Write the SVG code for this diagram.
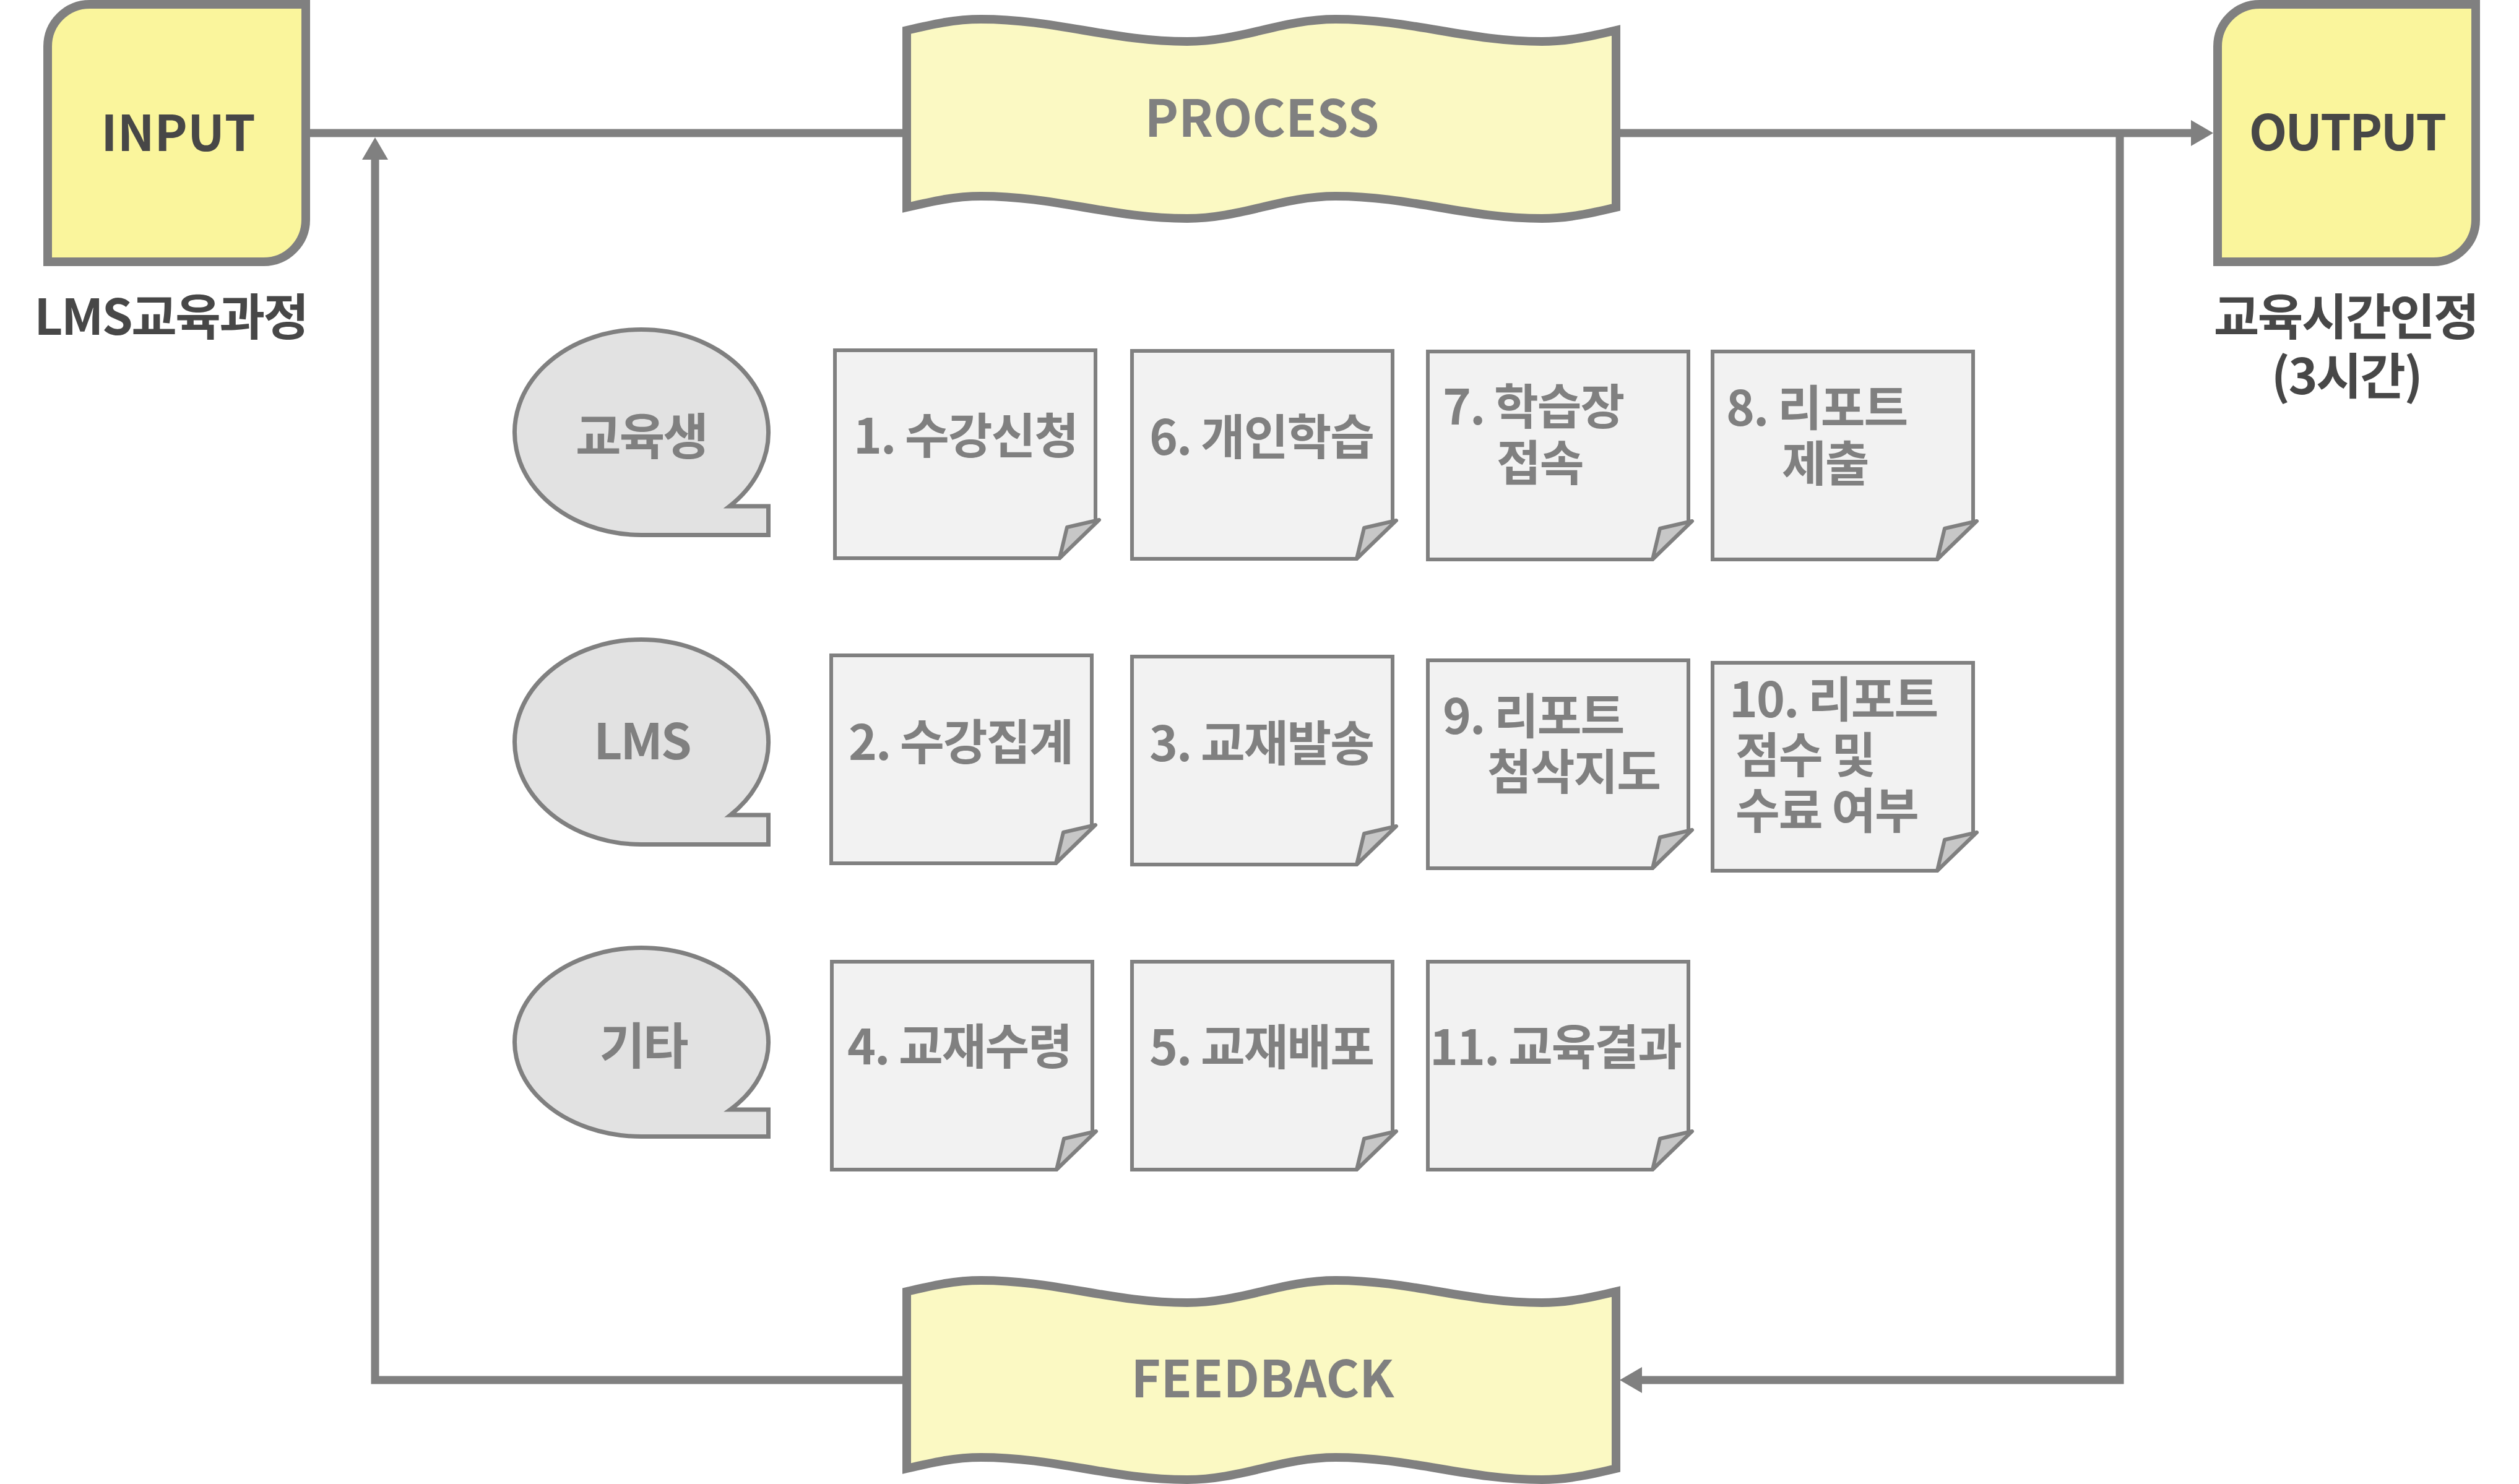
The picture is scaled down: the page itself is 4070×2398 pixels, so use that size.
<svg xmlns="http://www.w3.org/2000/svg" width="4070" height="2398" viewBox="0 0 4070 2398">
  <style>
    .io { fill: #faf59c; stroke: #808080; stroke-width: 14; }
    .tape { fill: #fbf9c3; stroke: #808080; stroke-width: 14; }
    .bubble { fill: #e2e2e2; stroke: #808080; stroke-width: 7; }
    .doc { fill: #f2f2f2; stroke: #808080; stroke-width: 6; }
    .fold { fill: #c7c7c7; stroke: #808080; stroke-width: 6; stroke-linejoin: round; }
    .conn { fill: none; stroke: #808080; stroke-width: 13; }
    text { font-family: "Noto Sans CJK KR", "Noto Sans", sans-serif; font-weight: 700; }
    .dark { fill: #474747; font-size: 80px; }
    .dark-sub { fill: #474747; font-size: 80px; letter-spacing: -2.5px; }
    .big { fill: #808080; font-size: 82px; }
    .blab { fill: #808080; font-size: 80px; letter-spacing: -3px; }
    .dlab { fill: #808080; font-size: 78px; letter-spacing: -2px; }
  </style>
  <defs>
    <marker id="arrow" markerUnits="userSpaceOnUse" markerWidth="36" markerHeight="42" refX="5" refY="21" orient="auto" viewBox="0 0 36 42">
      <path d="M0,0 L36,21 L0,42 Z" fill="#808080"/>
    </marker>
    <path id="tapeShape" d="M0,0 C39,-9.2 77,-18 120,-18 C241,-18 332,18 453,18 C540,18 606,-18 693,-18 C814,-18 905,18 1026,18 C1069,18 1107,9.2 1146,0 V286 C1107,295.2 1069,304 1026,304 C905,304 814,268 693,268 C606,268 540,304 453,304 C332,304 241,268 120,268 C77,268 39,276.8 0,286 Z"/>
    <path id="docShape" d="M0,0 H421 V278 L363,336 H0 Z"/>
    <path id="foldShape" d="M427,274 L375,286 L363,336 Z"/>
  </defs>

  <g id="connectors">
    <path class="conn" d="M501,215 H1459"/>
    <path class="conn" d="M2617,215 H3545" marker-end="url(#arrow)"/>
    <path class="conn" d="M3425,215 V2230 H2648" marker-end="url(#arrow)"/>
    <path class="conn" d="M1459,2230 H606 V253" marker-end="url(#arrow)"/>
  </g>

  <g id="input">
    <path class="io" d="M77,75 A68,68 0 0 1 145,7 H494 V355 A68,68 0 0 1 426,423 H77 Z"/>
    <text class="dark" x="288" y="244" text-anchor="middle">INPUT</text>
    <text class="dark-sub" x="276" y="541" text-anchor="middle">LMS교육과정</text>
  </g>

  <g id="output">
    <path class="io" d="M3583,75 A68,68 0 0 1 3651,7 H4000 V355 A68,68 0 0 1 3932,423 H3583 Z"/>
    <text class="dark" x="3792" y="243" text-anchor="middle" style="letter-spacing:-3px">OUTPUT</text>
    <text class="dark-sub" x="3790" y="541" text-anchor="middle">교육시간인정</text>
    <text class="dark-sub" x="3791" y="637" text-anchor="middle">(3시간)</text>
  </g>

  <g id="process">
    <use href="#tapeShape" class="tape" x="1465" y="49"/>
    <text class="big" x="2039" y="221" text-anchor="middle">PROCESS</text>
  </g>

  <g id="feedback">
    <use href="#tapeShape" class="tape" x="1465" y="2087"/>
    <text class="big" x="2040" y="2258" text-anchor="middle">FEEDBACK</text>
  </g>

  <g id="actor-student">
    <path class="bubble" d="M1178.8,818 A205,166 0 1,0 1036.5,864.5 H1241.5 V818 Z"/>
    <text class="blab" x="1036" y="734" text-anchor="middle">교육생</text>
  </g>
  <g id="actor-lms">
    <path class="bubble" d="M1180.3,1317 A205,165.5 0 1,0 1036.5,1364.5 H1241.5 V1317 Z"/>
    <text class="blab" x="1037" y="1227" text-anchor="middle">LMS</text>
  </g>
  <g id="actor-etc">
    <path class="bubble" d="M1179.9,1793 A205,152.5 0 1,0 1036.5,1836.5 H1241.5 V1793 Z"/>
    <text class="blab" x="1039" y="1719" text-anchor="middle">기타</text>
  </g>

  <g id="step1">
    <g transform="translate(1349,566)"><use href="#docShape" class="doc"/><use href="#foldShape" class="fold"/></g>
    <text class="dlab" x="1560" y="733" text-anchor="middle">1. 수강신청</text>
  </g>

  <g id="step6">
    <g transform="translate(1829,567)"><use href="#docShape" class="doc"/><use href="#foldShape" class="fold"/></g>
    <text class="dlab" x="2038" y="735" text-anchor="middle">6. 개인학습</text>
  </g>

  <g id="step7">
    <g transform="translate(2307,568)"><use href="#docShape" class="doc"/><use href="#foldShape" class="fold"/></g>
    <text class="dlab"><tspan x="2331" y="686">7. 학습장</tspan><tspan x="2418" y="777">접속</tspan></text>
  </g>

  <g id="step8">
    <g transform="translate(2767,568)"><use href="#docShape" class="doc"/><use href="#foldShape" class="fold"/></g>
    <text class="dlab"><tspan x="2789" y="688">8. 리포트</tspan><tspan x="2879" y="778">제출</tspan></text>
  </g>

  <g id="step2">
    <g transform="translate(1343,1059)"><use href="#docShape" class="doc"/><use href="#foldShape" class="fold"/></g>
    <text class="dlab" x="1552" y="1228" text-anchor="middle">2. 수강집계</text>
  </g>

  <g id="step3">
    <g transform="translate(1829,1061)"><use href="#docShape" class="doc"/><use href="#foldShape" class="fold"/></g>
    <text class="dlab" x="2038" y="1230" text-anchor="middle">3. 교재발송</text>
  </g>

  <g id="step9">
    <g transform="translate(2307,1067)"><use href="#docShape" class="doc"/><use href="#foldShape" class="fold"/></g>
    <text class="dlab"><tspan x="2331" y="1186">9. 리포트</tspan><tspan x="2403" y="1276">첨삭지도</tspan></text>
  </g>

  <g id="step10">
    <g transform="translate(2767,1071)"><use href="#docShape" class="doc"/><use href="#foldShape" class="fold"/></g>
    <text class="dlab"><tspan x="2794" y="1159">10. 리포트</tspan><tspan x="2804" y="1249">점수 및</tspan><tspan x="2804" y="1339">수료 여부</tspan></text>
  </g>

  <g id="step4">
    <g transform="translate(1344,1554)"><use href="#docShape" class="doc"/><use href="#foldShape" class="fold"/></g>
    <text class="dlab" x="1550" y="1720" text-anchor="middle">4. 교재수령</text>
  </g>

  <g id="step5">
    <g transform="translate(1829,1554)"><use href="#docShape" class="doc"/><use href="#foldShape" class="fold"/></g>
    <text class="dlab" x="2038" y="1721" text-anchor="middle">5. 교재배포</text>
  </g>

  <g id="step11">
    <g transform="translate(2307,1554)"><use href="#docShape" class="doc"/><use href="#foldShape" class="fold"/></g>
    <text class="dlab" x="2513" y="1721" text-anchor="middle">11. 교육결과</text>
  </g>
</svg>
